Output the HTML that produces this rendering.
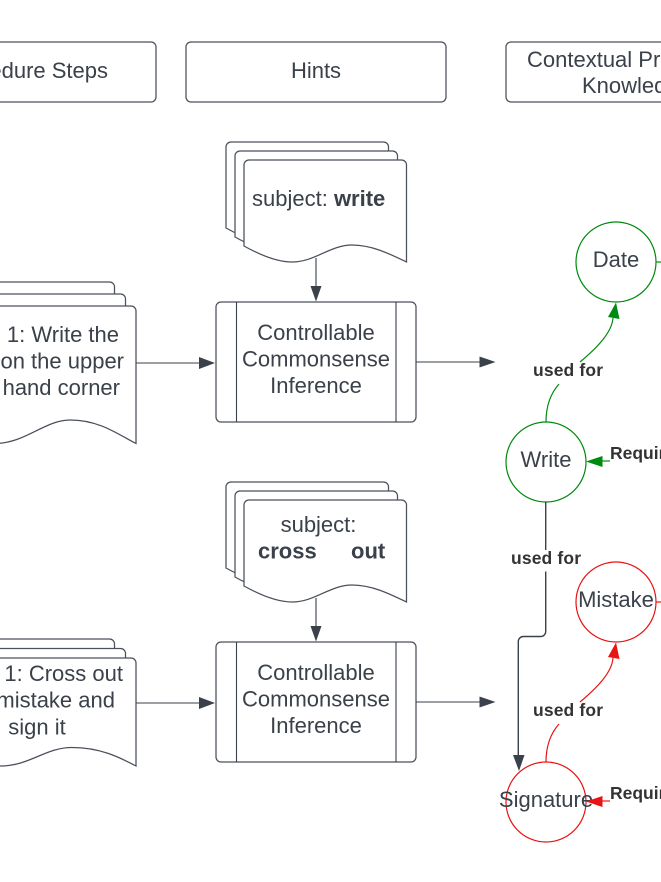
<!DOCTYPE html>
<html>
<head>
<meta charset="utf-8">
<style>
html,body{margin:0;padding:0;background:#fff;width:661px;height:882px;overflow:hidden}
svg{display:block}
text{font-family:"Liberation Sans",sans-serif;font-size:22px;fill:#3a414a}
.b{font-weight:bold}
.l{font-weight:bold;font-size:17.5px;fill:#333}
.s{fill:#fff;stroke:#4a515b;stroke-width:1.25}
.c{fill:none;stroke:#3a414a;stroke-width:1.1}
</style>
</head>
<body>
<svg width="661" height="882" viewBox="0 0 661 882" xmlns="http://www.w3.org/2000/svg">
<defs>
<path id="doc" d="M5 0H157.500A5 5 0 0 1 162.500 5V102C146 94 128 85 108 85C86 85 71 102 48 102C34 102 18 96 0 86V5A5 5 0 0 1 5 0Z"/>
</defs>

<!-- header boxes -->
<rect class="s" x="-104" y="42" width="260" height="60" rx="5"/>
<rect class="s" x="186" y="42" width="260" height="60" rx="5"/>
<rect class="s" x="506" y="42" width="260" height="60" rx="5"/>
<text x="108" y="78" text-anchor="end">Procedure Steps</text>
<text x="316" y="78" text-anchor="middle">Hints</text>
<text x="527" y="67">Contextual Procedural</text>
<text x="582" y="93">Knowledge</text>

<!-- hint doc 1 -->
<use href="#doc" class="s" x="226" y="142"/>
<use href="#doc" class="s" x="235" y="151"/>
<use href="#doc" class="s" x="244" y="160"/>
<text x="252" y="206">subject: <tspan class="b">write</tspan></text>
<path class="c" d="M316 258V288"/>
<path d="M316 301.500L310.500 286H321.500Z" fill="#3a414a"/>

<!-- hint doc 2 -->
<use href="#doc" class="s" x="226" y="482"/>
<use href="#doc" class="s" x="235" y="491"/>
<use href="#doc" class="s" x="244" y="500"/>
<text x="318.500" y="532" text-anchor="middle">subject:</text>
<text x="258" y="558.500" class="b">cross</text>
<text x="351" y="558.500" class="b">out</text>
<path class="c" d="M316 598V628"/>
<path d="M316 641.500L310.500 626H321.500Z" fill="#3a414a"/>

<!-- process 1 -->
<rect class="s" x="216" y="302" width="200" height="120" rx="5"/>
<path class="c" d="M236.500 302V422M396 302V422"/>
<text x="316" y="340" text-anchor="middle">Controllable</text>
<text x="316" y="366.500" text-anchor="middle">Commonsense</text>
<text x="316" y="393" text-anchor="middle">Inference</text>

<!-- process 2 -->
<rect class="s" x="216" y="642" width="200" height="120" rx="5"/>
<path class="c" d="M236.500 642V762M396 642V762"/>
<text x="316" y="680" text-anchor="middle">Controllable</text>
<text x="316" y="706.500" text-anchor="middle">Commonsense</text>
<text x="316" y="733" text-anchor="middle">Inference</text>

<!-- left doc 1 -->
<path class="s" d="M-30 282H109.500A5 5 0 0 1 114.500 287V300H-30Z"/>
<path class="s" d="M-30 294H120.500A5 5 0 0 1 125.500 299V312H-30Z"/>
<path class="s" d="M-30 306H131A5 5 0 0 1 136 311V443.500C119 435 100 420 70 420C45 420 25 443.500 -5 443.500L-30 443.500Z"/>
<text x="119" y="342" text-anchor="end">Step 1: Write the</text>
<text x="124" y="368.500" text-anchor="end">on the upper</text>
<text x="120" y="395" text-anchor="end">hand corner</text>
<path class="c" d="M136 363H200"/>
<path d="M215 363L199 357V369Z" fill="#3a414a"/>

<!-- left doc 2 -->
<path class="s" d="M-30 639H109.500A5 5 0 0 1 114.500 644V660H-30Z"/>
<path class="s" d="M-30 648.500H120.500A5 5 0 0 1 125.500 653.500V670H-30Z"/>
<path class="s" d="M-30 658H131A5 5 0 0 1 136 663V766C119 757 100 747.500 72 747.500C45 747.500 30 766 0 766H-30Z"/>
<text x="123" y="681" text-anchor="end">Step 1: Cross out</text>
<text x="115" y="707.500" text-anchor="end">mistake and</text>
<text x="37" y="734.500" text-anchor="middle">sign it</text>
<path class="c" d="M136 703H200"/>
<path d="M215 703L199 697V709Z" fill="#3a414a"/>

<!-- arrows to right -->
<path class="c" d="M416 362H481"/>
<path d="M495.500 362L479.500 356.500V367.500Z" fill="#3a414a"/>
<path class="c" d="M416 702H481"/>
<path d="M495.500 702L479.500 696.500V707.500Z" fill="#3a414a"/>

<!-- green graph -->
<circle cx="616" cy="262" r="40" fill="#fff" stroke="#008a0e" stroke-width="1.2"/>
<circle cx="546" cy="462" r="40" fill="#fff" stroke="#008a0e" stroke-width="1.2"/>
<text x="616" y="267" text-anchor="middle">Date</text>
<text x="546" y="467" text-anchor="middle">Write</text>
<path d="M656 262H661" fill="none" stroke="#008a0e" stroke-width="1.2"/>
<path d="M546 422C546 405 551 393 559 384M580 362C598 347 612 332 613 318" fill="none" stroke="#008a0e" stroke-width="1.2"/>
<path d="M616 302.500L608 317L619.500 319Z" fill="#008a0e"/>
<text x="533" y="376" class="l" textLength="70" lengthAdjust="spacing">used for</text>
<path d="M610 461H600" fill="none" stroke="#008a0e" stroke-width="1.2"/>
<path d="M586 461.500L602.500 456V467Z" fill="#008a0e"/>
<text x="610" y="459" class="l">Requires</text>

<!-- write to signature -->
<path d="M545.700 502V550M545.700 571.500V631A5 5 0 0 1 540.700 636.500H523.300A5 5 0 0 0 518.300 641.500V757" fill="none" stroke="#3a414a" stroke-width="1.4"/>
<path d="M519 771L513 755H524.500Z" fill="#3a414a"/>
<text x="511" y="564" class="l" textLength="70" lengthAdjust="spacing">used for</text>

<!-- red graph -->
<circle cx="616" cy="602" r="40" fill="#fff" stroke="#e81313" stroke-width="1.2"/>
<circle cx="546" cy="802" r="40" fill="none" stroke="#e81313" stroke-width="1.2"/>
<text x="616" y="607" text-anchor="middle">Mistake</text>
<text x="546" y="807" text-anchor="middle">Signature</text>
<path d="M656 602H661" fill="none" stroke="#e81313" stroke-width="1.2"/>
<path d="M546 762C546 745 551 733 559 724M580 702C598 687 612 672 613 658" fill="none" stroke="#e81313" stroke-width="1.2"/>
<path d="M616 642.500L608 657L619.500 659Z" fill="#e81313"/>
<text x="533" y="716" class="l" textLength="70" lengthAdjust="spacing">used for</text>
<path d="M610 801H600" fill="none" stroke="#e81313" stroke-width="1.2"/>
<path d="M586 801.500L602.500 796V807Z" fill="#e81313"/>
<text x="610" y="799" class="l">Requires</text>
</svg>
</body>
</html>
